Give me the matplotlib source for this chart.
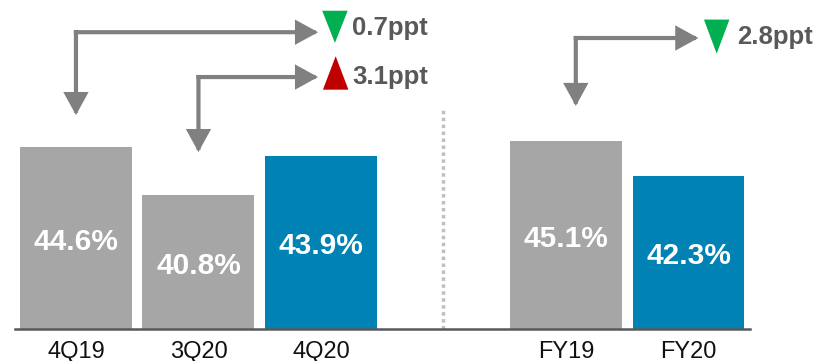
import matplotlib.pyplot as plt
from matplotlib.patches import FancyArrowPatch, Polygon

plt.rcParams['font.family'] = ['Liberation Sans', 'DejaVu Sans']

labels = ['4Q19', '3Q20', '4Q20', 'FY19', 'FY20']
values = [44.6, 40.8, 43.9, 45.1, 42.3]
positions = [0, 1, 2, 4, 5]
colors = ['#a6a6a6', '#a6a6a6', '#0082b4', '#a6a6a6', '#0082b4']

# change annotations
changes = ['0.7ppt', '3.1ppt', '2.8ppt']
change_up = [False, True, False]

GRAY = '#808080'
TXT = '#595959'
Y0 = 30.2

fig = plt.figure(figsize=(8.18, 3.61), dpi=100)
ax = fig.add_axes([0, 32 / 361, 1, 329 / 361])
ax.set_xlim(-0.62, 6.057)
ax.set_ylim(Y0, 56.25)
ax.axis('off')

ax.bar(positions, [v - Y0 for v in values], bottom=Y0, width=0.914, color=colors, zorder=2)
for x, v in zip(positions, values):
    ax.text(x, Y0 + (v - Y0) / 2 - 0.3, f'{v:.1f}%', ha='center', va='center',
            color='white', fontsize=21.5, fontweight='bold', zorder=3)

# baseline and tick labels
ax.plot([-0.5, 5.5], [Y0, Y0], color='#595959', lw=1.8, clip_on=False, zorder=3)
for x, lab in zip(positions, labels):
    ax.text(x, Y0 - 1.85, lab, ha='center', va='center', fontsize=17, color='#111111',
            clip_on=False)

# dotted separator
ax.plot([3.0, 3.0], [Y0, 47.8], color='#bfbfbf', lw=2.5, ls=(0, (1, 1)), zorder=1)


def elbow(xv, yh, y_down, x_right):
    for end in [(xv, y_down), (x_right, yh)]:
        a = FancyArrowPatch((xv, yh), end, arrowstyle='-|>,head_length=0.6,head_width=0.33',
                            mutation_scale=20, color=GRAY, lw=3, shrinkA=0, shrinkB=0,
                            capstyle='projecting', joinstyle='miter')
        ax.add_patch(a)


elbow(0.0, 53.7, 47.14, 1.976)
elbow(1.0, 50.15, 44.21, 1.976)
elbow(4.08, 53.24, 47.86, 5.08)

tri_x = [2.114, 2.12, 5.23]
tri_top = [55.4, 51.8, 54.7]
tri_bot = [52.85, 49.15, 52.0]
text_x = [2.253, 2.253, 5.396]
text_y = [54.03, 50.15, 53.3]
hw = 0.104
for i in range(3):
    x, t, b = tri_x[i], tri_top[i], tri_bot[i]
    if change_up[i]:
        pts = [(x - hw, b), (x + hw, b), (x, t)]
        c = '#c00000'
    else:
        pts = [(x - hw, t), (x + hw, t), (x, b)]
        c = '#00b050'
    ax.add_patch(Polygon(pts, closed=True, color=c, lw=0))
    ax.text(text_x[i], text_y[i], changes[i], ha='left', va='center', fontsize=18.5,
            fontweight='bold', color=TXT)

fig.savefig('out.png', dpi=100)
